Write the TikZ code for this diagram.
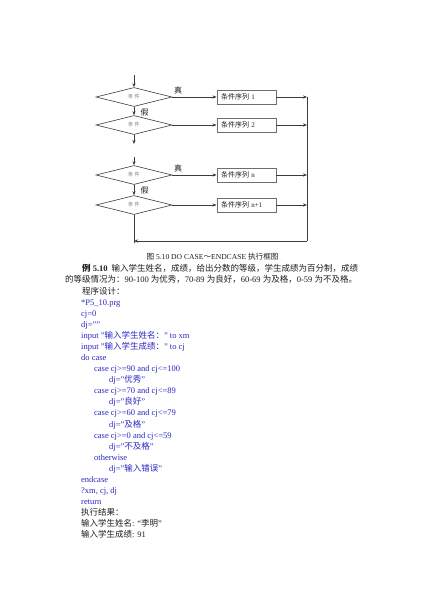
\documentclass[tikz,border=0pt]{standalone}
\usepackage{fontspec}
\setmainfont{Liberation Serif}
\newfontfamily\cjk{Noto Sans CJK SC}
\usetikzlibrary{shapes.geometric,arrows.meta}
\definecolor{codeblue}{RGB}{40,40,195}
\definecolor{lnc}{RGB}{60,60,60}
\definecolor{boxc}{RGB}{110,110,110}
\definecolor{txc}{RGB}{30,30,30}
\newcommand\zh[1]{{\cjk #1}}
\begin{document}
\begin{tikzpicture}[x=1pt,y=-1pt,
  dia/.style={diamond, draw=lnc, line width=0.6pt, minimum width=76pt, minimum height=19pt, inner sep=0pt, font=\fontsize{5.2}{6}\selectfont, text=gray},
  box/.style={draw=boxc, line width=0.9pt, minimum height=14pt, text width=51pt, inner xsep=4pt, inner ysep=0pt, align=left, font=\fontsize{7}{8}\selectfont, text=txc},
  arr/.style={draw=lnc, line width=0.7pt, -{Stealth[length=4pt,width=3.2pt]}},
  ln/.style={draw=lnc, line width=0.7pt},
  lbl/.style={inner sep=0pt, font=\fontsize{8}{9}\selectfont\cjk, text=txc},
  tx/.style={anchor=base west, inner sep=0pt, font=\fontsize{8.5}{10}\selectfont, text=txc},
  cd/.style={tx, text=codeblue},
  captxt/.style={anchor=base, inner sep=0pt, font=\fontsize{7.6}{9}\selectfont, text=txc}]
\useasboundingbox (0,0) rectangle (424,600);
\fill[white] (0,0) rectangle (424,600);
% flowchart
\node[dia] (d1) at (134,97) {\zh{条 件}};
\node[dia] (d2) at (134,125) {\zh{条 件}};
\node[dia] (d3) at (134,175) {\zh{条 件}};
\node[dia] (d4) at (134,205) {\zh{条 件}};
\node[box] (b1) at (246.5,97) {\zh{条件序列} 1};
\node[box] (b2) at (246.5,125) {\zh{条件序列} 2};
\node[box] (b3) at (246.5,175) {\zh{条件序列} n};
\node[box] (b4) at (246.5,205) {\zh{条件序列} n+1};
\coordinate (top) at (134,75);
\coordinate (e2) at (134,144);
\coordinate (s3) at (134,157);
\coordinate (bl) at (134,243);
\coordinate (bt) at (134,241);
\coordinate (r1) at (307,97);
\coordinate (r2) at (307,125);
\coordinate (r3) at (307,175);
\coordinate (r4) at (307,205);
\coordinate (rb) at (307,241);
\draw[arr] (top) -- (d1);
\draw[arr] (d1) -- (d2);
\draw[arr] (d2) -- (e2);
\draw[arr] (s3) -- (d3);
\draw[arr] (d3) -- (d4);
\draw[ln] (d4.south) -- (bl);
\draw[arr] (d1.east) -- (b1.west);
\draw[arr] (d2.east) -- (b2.west);
\draw[arr] (d3.east) -- (b3.west);
\draw[arr] (d4.east) -- (b4.west);
\draw[arr] (b1.east) -- (r1);
\draw[arr] (b2.east) -- (r2);
\draw[arr] (b3.east) -- (r3);
\draw[arr] (b4.east) -- (r4);
\draw[ln] (r1) -- (rb);
\draw[arr] (rb) -- (bt);
\node[lbl] (t1) at (178,90.5) {真};
\node[lbl] (f1) at (144.5,112) {假};
\node[lbl] (t3) at (178,168) {真};
\node[lbl] (f3) at (144.5,190.5) {假};
% caption
\node[captxt] (capn) at (212.5,259.8) {\zh{图} 5.10 DO CASE\zh{～}ENDCASE \zh{执行框图}};
% body text (baseline = centre + 3.2)
\node[tx] (l0) at (82,271.2) {\textbf{\zh{例} 5.10}\hspace{4pt}\zh{输入学生姓名，成绩，给出分数的等级，学生成绩为百分制，成绩}};
\node[tx] (l1) at (65,282.6) {\zh{的等级情况为：}90-100 \zh{为优秀，}70-89 \zh{为良好，}60-69 \zh{为及格，}0-59 \zh{为不及格。}};
\node[tx] (l2) at (82,294) {\zh{程序设计：}};
\node[cd] (c3) at (81,305.45) {*P5\_10.prg};
\node[cd] (c4) at (81,316.5) {cj=0};
\node[cd] (c5) at (81,327.55) {dj=""};
\node[cd] (c6) at (81,338.6) {input "\zh{输入学生姓名：}" to xm};
\node[cd] (c7) at (81,349.65) {input "\zh{输入学生成绩：}" to cj};
\node[cd] (c8) at (81,360.7) {do case};
\node[cd] (c9) at (94,371.75) {case cj>=90 and cj<=100};
\node[cd] (c10) at (109,382.8) {dj="\zh{优秀}"};
\node[cd] (c11) at (94,393.85) {case cj>=70 and cj<=89};
\node[cd] (c12) at (109,404.9) {dj="\zh{良好}"};
\node[cd] (c13) at (94,415.95) {case cj>=60 and cj<=79};
\node[cd] (c14) at (109,427) {dj="\zh{及格}"};
\node[cd] (c15) at (94,438.05) {case cj>=0 and cj<=59};
\node[cd] (c16) at (109,449.1) {dj="\zh{不及格}"};
\node[cd] (c17) at (94,460.15) {otherwise};
\node[cd] (c18) at (109,471.2) {dj="\zh{输入错误}"};
\node[cd] (c19) at (81,482.25) {endcase};
\node[cd] (c20) at (81,493.3) {?xm, cj, dj};
\node[cd] (c21) at (81,504.35) {return};
\node[tx] (r22) at (81,515.4) {\zh{执行结果：}};
\node[tx] (r23) at (81,526.45) {\zh{输入学生姓名}: “\zh{李明}”};
\node[tx] (r24) at (81,537.5) {\zh{输入学生成绩}: 91};
\end{tikzpicture}
\end{document}
